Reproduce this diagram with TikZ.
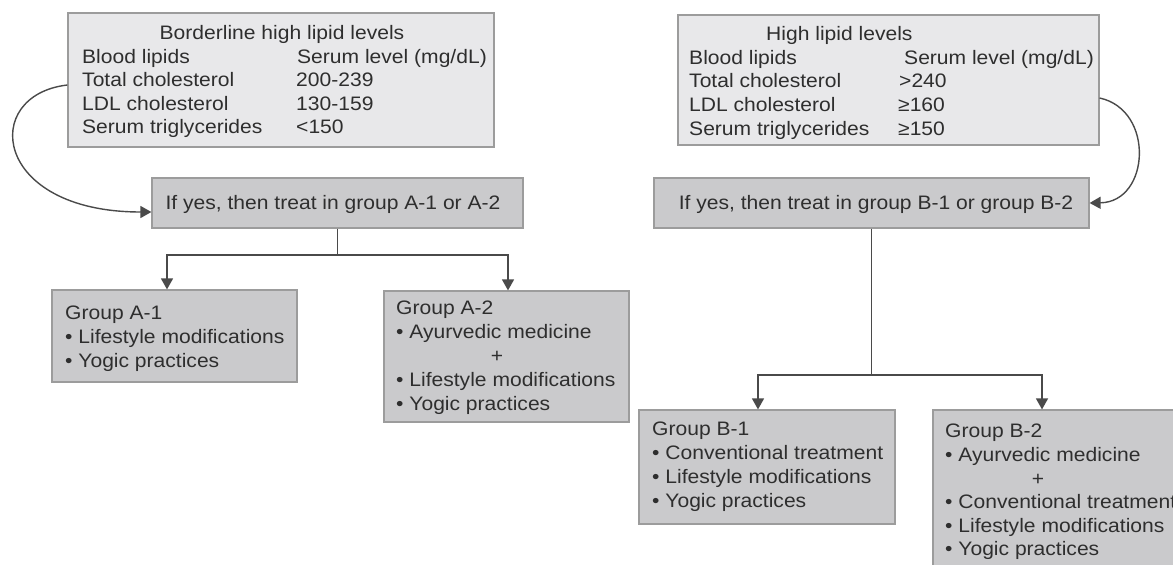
\documentclass[tikz,border=0pt]{standalone}
\usepackage{fontspec}
\setmainfont{Liberation Sans}[FakeStretch=1.08]
\usetikzlibrary{arrows.meta}
\definecolor{txt}{HTML}{2E2E2E}
\definecolor{lightfill}{HTML}{E8E8EA}
\definecolor{darkfill}{HTML}{CACACC}
\definecolor{boxline}{HTML}{9C9C9C}
\definecolor{conn}{HTML}{4A4A4A}
\tikzset{
  topbox/.style={draw=boxline, fill=lightfill, line width=1.2pt, inner sep=0pt, rectangle},
  lowbox/.style={draw=boxline, fill=darkfill, line width=1.2pt, inner sep=0pt, rectangle},
  tx/.style={anchor=base west, inner sep=0pt, text=txt},
  tc/.style={anchor=base, inner sep=0pt, text=txt},
  link/.style={draw=conn, line width=1.4pt},
  arr/.style={link, -{Triangle[width=12pt,length=11pt]}},
}
\begin{document}
\begin{tikzpicture}[x=1pt,y=-1pt,font=\fontsize{19.5}{23.5}\selectfont]
\clip (0,0) rectangle (1173,565);
\fill[white] (0,0) rectangle (1173,565);

% top boxes
\node[topbox, minimum width=426pt, minimum height=134pt] (box1) at (281,80) {};
\node[topbox, minimum width=421pt, minimum height=130pt] (box2) at (888.5,80) {};
% decision boxes
\node[lowbox, minimum width=371pt, minimum height=50pt] (boxA) at (337.5,203) {};
\node[lowbox, minimum width=435pt, minimum height=50pt] (boxB) at (871.5,203) {};
% group boxes
\node[lowbox, minimum width=245pt, minimum height=92pt] (gA1) at (174.5,336) {};
\node[lowbox, minimum width=245pt, minimum height=131pt] (gA2) at (506.5,356.5) {};
\node[lowbox, minimum width=256pt, minimum height=114pt] (gB1) at (767,467) {};
\node[lowbox, minimum width=260pt, minimum height=180pt] (gB2) at (1063,500) {};

% box1 text
\node[tc] (b1t) at (282,39) {Borderline high lipid levels};
\node[tx] (b1r1a) at (82,63) {Blood lipids};
\node[tx] (b1r1b) at (297,63) {Serum level (mg/dL)};
\node[tx] (b1r2a) at (82,86) {Total cholesterol};
\node[tx] (b1r2b) at (296,86) {200-239};
\node[tx] (b1r3a) at (82,110) {LDL cholesterol};
\node[tx] (b1r3b) at (296,110) {130-159};
\node[tx] (b1r4a) at (82,133) {Serum triglycerides};
\node[tx] (b1r4b) at (296,133) {<150};

% box2 text
\node[tx] (b2t) at (766,40) {High lipid levels};
\node[tx] (b2r1a) at (689,64) {Blood lipids};
\node[tx] (b2r1b) at (904,64) {Serum level (mg/dL)};
\node[tx] (b2r2a) at (689,87) {Total cholesterol};
\node[tx] (b2r2b) at (899,87) {>240};
\node[tx] (b2r3a) at (689,111) {LDL cholesterol};
\node[tx] (b2r3b) at (898,111) {≥160};
\node[tx] (b2r4a) at (689,135) {Serum triglycerides};
\node[tx] (b2r4b) at (898,135) {≥150};

% decision texts
\node[tc] (tA) at (333,209) {If yes, then treat in group A-1 or A-2};
\node[tc] (tB) at (876,209) {If yes, then treat in group B-1 or group B-2};

% group A-1
\node[tx] (a1l1) at (65,319) {Group A-1};
\node[tx] (a1l2) at (65,343) {• Lifestyle modifications};
\node[tx] (a1l3) at (65,367) {• Yogic practices};
% group A-2
\node[tx] (a2l1) at (396,314) {Group A-2};
\node[tx] (a2l2) at (396,338) {• Ayurvedic medicine};
\node[tc] (a2l3) at (497,362) {+};
\node[tx] (a2l4) at (396,386) {• Lifestyle modifications};
\node[tx] (a2l5) at (396,410) {• Yogic practices};
% group B-1
\node[tx] (b1l1) at (652,435) {Group B-1};
\node[tx] (b1l2) at (652,459) {• Conventional treatment};
\node[tx] (b1l3) at (652,483) {• Lifestyle modifications};
\node[tx] (b1l4) at (652,507) {• Yogic practices};
% group B-2
\node[tx] (b2l1) at (945,437) {Group B-2};
\node[tx] (b2l2) at (945,461) {• Ayurvedic medicine};
\node[tc] (b2l3) at (1038,485) {+};
\node[tx] (b2l4) at (945,508) {• Conventional treatment};
\node[tx] (b2l5) at (945,532) {• Lifestyle modifications};
\node[tx] (b2l6) at (945,555) {• Yogic practices};

% connectors
\draw[arr] ([yshift=-5pt]box1.west) .. controls (-20,95) and (-8,212) .. ([yshift=-9pt]boxA.west);
\draw[arr] ([yshift=-18pt]box2.east) .. controls (1155,110) and (1150,202) .. (boxB.east);

\coordinate (jA) at (337.5,255);
\draw[link] (boxA.south) -- (jA);
\draw[arr] (jA) -| ([xshift=-7.5pt]gA1.north);
\draw[arr] (jA) -| ([xshift=1.5pt]gA2.north);

\coordinate (jB) at (871.5,375);
\draw[link] (boxB.south) -- (jB);
\draw[arr] (jB) -| ([xshift=-9pt]gB1.north);
\draw[arr] (jB) -| ([xshift=-21pt]gB2.north);
\end{tikzpicture}
\end{document}
